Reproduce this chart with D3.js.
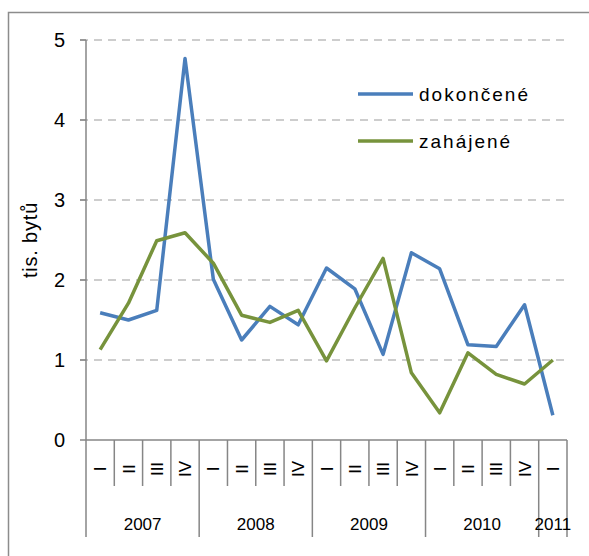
<!DOCTYPE html>
<html>
<head>
<meta charset="utf-8">
<script src="https://cdn.jsdelivr.net/npm/d3@7"></script>
<style>
  body { margin: 0; background: #fff; }
  svg { display: block; font-family: "Liberation Sans", Arial, sans-serif; }
</style>
</head>
<body>
<div id="chart"></div>
<script>
// quarters, one entry per point
var years = ['2007', '2008', '2009', '2010', '2011']
var quarters = ['I', 'II', 'III', 'IV']
var periods = [
  ['2007','I'],['2007','II'],['2007','III'],['2007','IV'],
  ['2008','I'],['2008','II'],['2008','III'],['2008','IV'],
  ['2009','I'],['2009','II'],['2009','III'],['2009','IV'],
  ['2010','I'],['2010','II'],['2010','III'],['2010','IV'],
  ['2011','I']
]
var dokoncene = [1.59, 1.50, 1.62, 4.77, 2.01, 1.25, 1.67, 1.44, 2.15, 1.89, 1.07, 2.34, 2.14, 1.19, 1.17, 1.69, 0.31]
var zahajene  = [1.13, 1.71, 2.49, 2.59, 2.21, 1.56, 1.47, 1.62, 0.99, 1.65, 2.27, 0.84, 0.34, 1.09, 0.82, 0.70, 1.00]
var yTicks = [0, 1, 2, 3, 4, 5]

var W = 589, H = 556
var svg = d3.select('#chart').append('svg').attr('width', W).attr('height', H)

// outer frame (runs off the right / bottom edge)
svg.append('rect')
  .attr('x', 8.5).attr('y', 12.5).attr('width', 600).attr('height', 600)
  .attr('fill', 'none').attr('stroke', '#8c8c8c').attr('stroke-width', 1.5)

var pLeft = 86, pRight = 567, pTop = 40, pBottom = 440

var x = d3.scaleBand().domain(d3.range(periods.length)).range([pLeft, pRight]).padding(0)
var y = d3.scaleLinear().domain([0, 5]).range([pBottom, pTop])

// gridlines
svg.append('g').selectAll('line').data(yTicks.filter(d => d > 0)).join('line')
  .attr('x1', pLeft - 6).attr('x2', pRight)
  .attr('y1', d => y(d)).attr('y2', d => y(d))
  .attr('stroke', '#bdbdbd').attr('stroke-width', 1.5)
  .attr('stroke-dasharray', '8,6')

// y axis
svg.append('line')
  .attr('x1', pLeft).attr('x2', pLeft).attr('y1', pTop).attr('y2', pBottom)
  .attr('stroke', '#868686').attr('stroke-width', 1.5)
svg.append('g').selectAll('line').data(yTicks).join('line')
  .attr('x1', pLeft - 6).attr('x2', pLeft)
  .attr('y1', d => y(d)).attr('y2', d => y(d))
  .attr('stroke', '#868686').attr('stroke-width', 1.5)
svg.append('g').selectAll('text').data(yTicks).join('text')
  .attr('x', 65).attr('y', d => y(d)).attr('dy', '0.36em')
  .attr('text-anchor', 'end').attr('font-size', 20).attr('fill', '#000')
  .text(d => d)

svg.append('text')
  .attr('transform', 'translate(37,240) rotate(-90)')
  .attr('text-anchor', 'middle').attr('font-size', 20).attr('letter-spacing', 0.8)
  .text('tis. bytů')

// x axis
svg.append('line')
  .attr('x1', pLeft).attr('x2', pRight).attr('y1', pBottom).attr('y2', pBottom)
  .attr('stroke', '#868686').attr('stroke-width', 1.5)

// quarter separators (short) and year separators (long)
var bounds = d3.range(periods.length + 1)
svg.append('g').selectAll('line').data(bounds).join('line')
  .attr('x1', i => i < periods.length ? x(i) : pRight)
  .attr('x2', i => i < periods.length ? x(i) : pRight)
  .attr('y1', pBottom)
  .attr('y2', i => (i === periods.length || i === 0 || periods[i][1] === 'I') ? 537 : 486)
  .attr('stroke', '#868686').attr('stroke-width', 1.5)

svg.append('g').selectAll('text').data(periods).join('text')
  .attr('transform', (d, i) => 'translate(' + (x(i) + x.bandwidth() / 2) + ',469) rotate(-90)')
  .attr('text-anchor', 'middle').attr('dy', '0.36em')
  .attr('font-size', 17)
  .text(d => d[1])

svg.append('g').selectAll('text').data(years).join('text')
  .attr('x', yr => {
    var idx = periods.map((p, i) => i).filter(i => periods[i][0] === yr)
    return (x(idx[0]) + x(idx[idx.length - 1]) + x.bandwidth()) / 2
  })
  .attr('y', 530)
  .attr('text-anchor', 'middle').attr('font-size', 17)
  .text(d => d)

// lines
var line = d3.line()
  .x((d, i) => x(i) + x.bandwidth() / 2)
  .y(d => y(d))

var series = [
  {name: 'dokončené', values: dokoncene, color: '#4a7ebb'},
  {name: 'zahájené', values: zahajene, color: '#77933c'}
]

svg.append('g').selectAll('path').data(series).join('path')
  .attr('d', d => line(d.values))
  .attr('fill', 'none').attr('stroke', d => d.color)
  .attr('stroke-width', 3.5).attr('stroke-linejoin', 'round')

// legend
var lg = svg.append('g').selectAll('g').data(series).join('g')
  .attr('transform', (d, i) => 'translate(358,' + (94 + i * 47) + ')')
lg.append('line').attr('x1', 0).attr('x2', 55)
  .attr('stroke', d => d.color).attr('stroke-width', 3.5)
lg.append('text').attr('x', 61).attr('dy', '0.36em')
  .attr('font-size', 19).attr('letter-spacing', 2)
  .text(d => d.name)
</script>
</body>
</html>
